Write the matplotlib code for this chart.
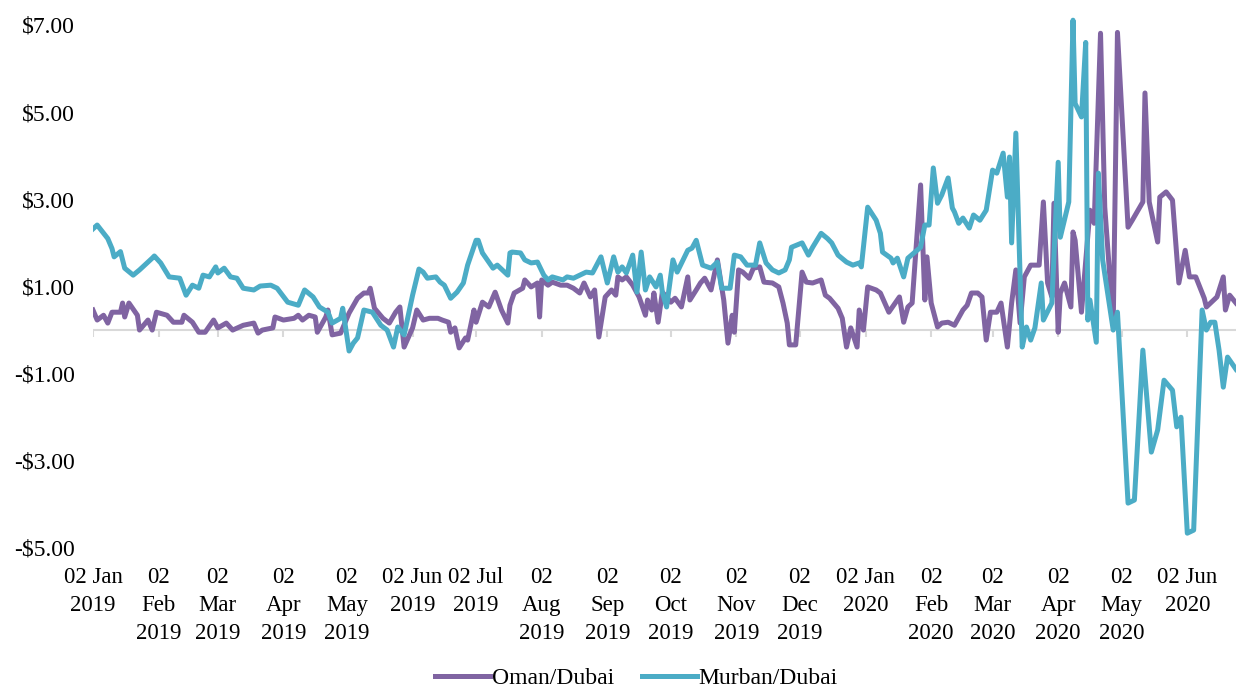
import numpy as np
import pandas as pd
import matplotlib
matplotlib.use("Agg")
import matplotlib.pyplot as plt
from matplotlib.ticker import FuncFormatter

plt.rcParams['font.family'] = ['Liberation Serif', 'DejaVu Serif']

start = pd.Timestamp("2019-01-02")
end_day = 540  # last observation, days after 02 Jan 2019

# Oman/Dubai spread ($/bbl) (days since 02 Jan 2019)
oman_days = [0, 2, 5, 7, 9, 13, 14, 15, 17, 21, 22, 26, 28, 30, 35, 38, 42, 43, 47, 50,
             53, 57, 59, 63, 66, 71, 76, 78, 80, 85, 86, 90, 95, 97, 99, 102, 105, 106, 110, 111,
             113, 117, 121, 125, 128, 130, 131, 133, 137, 140, 143, 145, 147, 151, 153, 156, 159, 163, 165, 168,
             169, 171, 173, 176, 177, 180, 181, 184, 187, 190, 193, 196, 197, 199, 203, 204, 207, 210, 211, 212,
             215, 217, 221, 224, 227, 230, 232, 235, 237, 239, 242, 245, 247, 248, 250, 252, 255, 258, 259, 261,
             262, 264, 265, 267, 269, 273, 275, 278, 281, 282, 285, 287, 289, 292, 295, 298, 300, 302, 303, 305,
             307, 310, 312, 315, 317, 321, 324, 326, 328, 329, 332, 335, 337, 340, 344, 346, 348, 352, 354, 356,
             358, 361, 362, 364, 366, 370, 372, 376, 379, 381, 383, 385, 387, 391, 393, 394, 396, 399, 401, 404,
             407, 411, 413, 415, 418, 420, 422, 424, 427, 429, 432, 434, 436, 438, 440, 443, 447, 449, 451, 453,
             454, 456, 457, 459, 462, 463, 464, 467, 471, 473, 476, 478, 482, 484, 489, 491, 496, 497, 499, 503,
             504, 507, 510, 513, 516, 518, 521, 525, 526, 531, 534, 535, 537, 540]
oman_vals = [0.46, 0.23, 0.34, 0.16, 0.41, 0.41, 0.62, 0.30, 0.62, 0.34, 0.00, 0.23, 0.00, 0.41, 0.34, 0.18, 0.18, 0.34, 0.18, -0.05,
             -0.05, 0.23, 0.05, 0.16, 0.00, 0.11, 0.16, -0.07, 0.00, 0.05, 0.30, 0.23, 0.27, 0.34, 0.23, 0.34, 0.30, -0.05, 0.30, 0.46,
             -0.11, -0.07, 0.39, 0.73, 0.85, 0.85, 0.96, 0.50, 0.27, 0.16, 0.41, 0.53, -0.39, 0.05, 0.46, 0.23, 0.27, 0.27, 0.23, 0.18,
             -0.05, 0.05, -0.41, -0.18, -0.23, 0.46, 0.18, 0.64, 0.53, 0.87, 0.46, 0.16, 0.57, 0.85, 0.96, 1.15, 0.99, 1.08, 0.30, 1.15,
             1.03, 1.10, 1.03, 1.03, 0.96, 0.85, 1.08, 0.76, 0.92, -0.16, 0.76, 0.92, 0.80, 1.22, 1.15, 1.22, 1.03, 0.76, 0.62, 0.34,
             0.69, 0.46, 0.85, 0.18, 0.87, 0.64, 0.73, 0.53, 1.22, 0.69, 0.92, 1.08, 1.19, 0.92, 1.61, 0.69, -0.30, 0.34, -0.05, 1.38,
             1.33, 1.19, 1.42, 1.45, 1.10, 1.08, 0.99, 0.62, 0.16, -0.34, -0.34, 1.33, 1.10, 1.08, 1.15, 0.80, 0.73, 0.50, 0.27, -0.39,
             0.05, -0.39, 0.46, 0.00, 0.99, 0.92, 0.85, 0.41, 0.62, 0.76, 0.18, 0.53, 0.62, 3.33, 0.69, 1.68, 0.62, 0.07, 0.16, 0.18,
             0.11, 0.46, 0.57, 0.85, 0.85, 0.76, -0.23, 0.41, 0.41, 0.62, -0.39, 0.62, 1.38, 0.16, 1.22, 1.49, 1.49, 2.94, 1.08, 0.76,
             2.91, -0.05, 0.85, 1.08, 0.53, 2.25, 2.06, 0.41, 2.75, 2.45, 6.81, 2.82, 0.16, 6.83, 2.36, 2.52, 2.94, 5.44, 2.94, 2.02,
             3.05, 3.17, 2.98, 1.08, 1.83, 1.22, 1.22, 0.73, 0.53, 0.76, 1.22, 0.46, 0.80, 0.62]

# Murban/Dubai spread ($/bbl)
murban_days = [0, 2, 7, 9, 10, 13, 15, 19, 22, 26, 28, 29, 32, 36, 41, 44, 47, 50, 52, 55,
               58, 59, 62, 65, 68, 71, 76, 79, 84, 87, 92, 97, 100, 104, 107, 111, 113, 117, 118, 121,
               123, 125, 128, 132, 136, 139, 142, 144, 147, 151, 154, 156, 158, 162, 164, 166, 169, 172, 175, 177,
               181, 182, 184, 189, 191, 196, 197, 198, 202, 204, 207, 210, 213, 215, 217, 222, 224, 227, 233, 236,
               240, 243, 246, 248, 250, 252, 255, 257, 259, 261, 263, 266, 268, 269, 271, 274, 276, 281, 283, 285,
               288, 292, 295, 297, 301, 303, 306, 309, 313, 315, 318, 321, 324, 327, 329, 330, 335, 338, 340, 344,
               347, 349, 352, 356, 359, 362, 363, 366, 370, 372, 373, 377, 378, 380, 383, 385, 391, 393, 395, 397,
               399, 401, 404, 406, 407, 409, 411, 414, 416, 419, 422, 425, 427, 430, 432, 433, 434, 436, 439, 441,
               443, 445, 448, 449, 453, 456, 457, 461, 463, 464, 467, 469, 470, 471, 474, 475, 477, 482, 484, 489,
               492, 496, 500, 503, 506, 510, 512, 514, 517, 520, 524, 526, 528, 530, 532, 534, 536, 540]
murban_vals = [2.32, 2.41, 2.10, 1.87, 1.68, 1.80, 1.42, 1.26, 1.38, 1.56, 1.65, 1.70, 1.54, 1.22, 1.19, 0.80, 1.03, 0.96, 1.26, 1.22,
               1.45, 1.31, 1.42, 1.22, 1.19, 0.96, 0.92, 1.01, 1.03, 0.96, 0.64, 0.57, 0.92, 0.76, 0.53, 0.41, 0.16, 0.27, 0.50, -0.48,
               -0.30, -0.18, 0.46, 0.41, 0.11, 0.00, -0.39, 0.07, -0.11, 0.80, 1.40, 1.33, 1.19, 1.22, 1.10, 1.03, 0.73, 0.87, 1.08, 1.49,
               2.06, 2.06, 1.77, 1.42, 1.49, 1.26, 1.77, 1.79, 1.77, 1.61, 1.54, 1.56, 1.26, 1.15, 1.22, 1.15, 1.22, 1.19, 1.33, 1.31,
               1.68, 1.08, 1.68, 1.33, 1.45, 1.31, 1.72, 0.87, 1.79, 0.92, 1.22, 0.99, 1.26, 0.87, 0.53, 1.61, 1.33, 1.83, 1.88, 2.06,
               1.49, 1.42, 1.56, 0.96, 0.96, 1.72, 1.68, 1.49, 1.49, 2.00, 1.54, 1.38, 1.31, 1.38, 1.61, 1.90, 2.00, 1.72, 1.90, 2.22,
               2.10, 2.00, 1.72, 1.56, 1.49, 1.54, 1.45, 2.82, 2.52, 2.22, 1.79, 1.65, 1.54, 1.65, 1.22, 1.65, 1.90, 2.41, 2.41, 3.72,
               2.91, 3.10, 3.49, 2.80, 2.71, 2.45, 2.57, 2.34, 2.64, 2.52, 2.75, 3.67, 3.60, 4.06, 3.05, 3.97, 2.00, 4.52, -0.39, 0.07,
               -0.23, 0.05, 1.08, 0.23, 0.62, 3.85, 2.13, 2.94, 7.11, 5.20, 4.89, 6.60, 0.23, 0.69, -0.28, 3.60, 1.61, 0.00, 0.41, -3.97,
               -3.90, -0.46, -2.80, -2.29, -1.15, -1.38, -2.22, -2.00, -4.66, -4.59, 0.46, 0.00, 0.18, 0.18, -0.46, -1.31, -0.62, -0.90]

tick_labels = ["02 Jan\n2019", "02\nFeb\n2019", "02\nMar\n2019", "02\nApr\n2019", "02\nMay\n2019",
               "02 Jun\n2019", "02 Jul\n2019", "02\nAug\n2019", "02\nSep\n2019", "02\nOct\n2019",
               "02\nNov\n2019", "02\nDec\n2019", "02 Jan\n2020", "02\nFeb\n2020", "02\nMar\n2020",
               "02\nApr\n2020", "02\nMay\n2020", "02 Jun\n2020"]
y_ticks = [-5, -3, -1, 1, 3, 5, 7]

oman_dates = start + pd.to_timedelta(oman_days, unit="D")
murban_dates = start + pd.to_timedelta(murban_days, unit="D")
# the 2nd of every month
tick_dates = pd.date_range("2019-01-01", periods=len(tick_labels), freq="MS") + pd.Timedelta(days=1)

fig = plt.figure(figsize=(12.36, 6.92), dpi=100)
ax = fig.add_axes([0.0752, 0.2081, 0.9248, 0.7747])

ax.plot(oman_dates, oman_vals, color="#8064A2", lw=3.6, label="Oman/Dubai", solid_joinstyle="round")
ax.plot(murban_dates, murban_vals, color="#4BACC6", lw=3.6, label="Murban/Dubai", solid_joinstyle="round")

# zero line with small month ticks hanging from it
ax.axhline(0, color="#D9D9D9", lw=1.5, zorder=0)
ax.vlines(tick_dates, -0.15, 0, color="#D9D9D9", lw=1.5, zorder=0)

ax.set_xlim(start, start + pd.Timedelta(days=end_day))
ax.set_ylim(-5, 7.3)
ax.set_yticks(y_ticks)
ax.yaxis.set_major_formatter(FuncFormatter(lambda v, p: f"-${abs(v):.2f}" if v < 0 else f"${v:.2f}"))
ax.set_xticks(tick_dates)
ax.set_xticklabels(tick_labels, linespacing=1.42)
ax.tick_params(axis="both", length=0, labelsize=16.5)
ax.tick_params(axis="y", labelsize=17, pad=13)
ax.tick_params(axis="x", pad=14)
for s in ax.spines.values():
    s.set_visible(False)

fig.legend(loc="center", bbox_to_anchor=(0.515, 0.02), ncol=2, frameon=False,
           fontsize=17, handlelength=2.3, handletextpad=0.08, columnspacing=1.2,
           borderpad=0.1)

fig.savefig("out.png", dpi=100)
